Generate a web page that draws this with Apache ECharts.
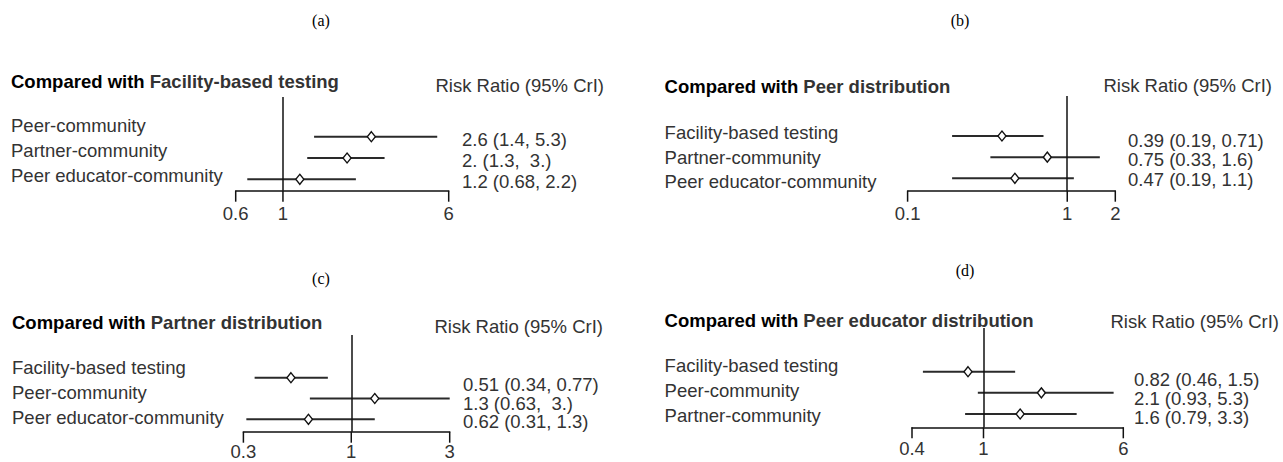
<!DOCTYPE html>
<html lang="en">
<head>
<meta charset="UTF-8">
<title>Risk ratio forest plots</title>
<script src="https://cdn.jsdelivr.net/npm/echarts@6/dist/echarts.min.js"></script>
<style>
    html, body { margin: 0; padding: 0; background: #fff; }
    #chart { width: 1283px; height: 462px; }
</style>
</head>
<body>
<div id="chart"></div>
<script>
    // (a) compared with Facility-based testing
    var rowsA = ['Peer-community', 'Partner-community', 'Peer educator-community'];
    var estA = [2.6, 2.0, 1.2];
    var loA = [1.4, 1.3, 0.68];
    var hiA = [5.3, 3.0, 2.2];
    var textA = ['2.6 (1.4, 5.3)', '2. (1.3,  3.)', '1.2 (0.68, 2.2)'];
    var ticksA = [0.6, 1, 6];

    // (b) compared with Peer distribution
    var rowsB = ['Facility-based testing', 'Partner-community', 'Peer educator-community'];
    var estB = [0.39, 0.75, 0.47];
    var loB = [0.19, 0.33, 0.19];
    var hiB = [0.71, 1.6, 1.1];
    var textB = ['0.39 (0.19, 0.71)', '0.75 (0.33, 1.6)', '0.47 (0.19, 1.1)'];
    var ticksB = [0.1, 1, 2];

    // (c) compared with Partner distribution
    var rowsC = ['Facility-based testing', 'Peer-community', 'Peer educator-community'];
    var estC = [0.51, 1.3, 0.62];
    var loC = [0.34, 0.63, 0.31];
    var hiC = [0.77, 3.0, 1.3];
    var textC = ['0.51 (0.34, 0.77)', '1.3 (0.63,  3.)', '0.62 (0.31, 1.3)'];
    var ticksC = [0.3, 1, 3];

    // (d) compared with Peer educator distribution
    var rowsD = ['Facility-based testing', 'Peer-community', 'Partner-community'];
    var estD = [0.82, 2.1, 1.6];
    var loD = [0.46, 0.93, 0.79];
    var hiD = [1.5, 5.3, 3.3];
    var textD = ['0.82 (0.46, 1.5)', '2.1 (0.93, 5.3)', '1.6 (0.79, 3.3)'];
    var ticksD = [0.4, 1, 6];

    var letters = ['(a)', '(b)', '(c)', '(d)'];
    var refNames = ['Facility-based testing', 'Peer distribution', 'Partner distribution', 'Peer educator distribution'];
    var header = 'Risk Ratio (95% CrI)';

    var FONT = '"Liberation Sans", Arial, sans-serif';
    var FS = 18.5;

    // where each panel sits on the page (pixels)
    var layouts = [
        {x0: 235.7, x1: 448.7, top: 97, bottom: 190.7, rowY0: 136.7, rowGap: 21.3, tickDy: 23,
            titleX: 11, titleY: 81.7, headR: 604, headY: 85, labelX: 11, labelY0: 125, labelGap: 25,
            valX: 462, valY0: 139.3, valGap: 21.2, letterX: 321, letterY: 20},
        {x0: 907.6, x1: 1115.3, top: 96, bottom: 190.7, rowY0: 136, rowGap: 21.15, tickDy: 23,
            titleX: 664.6, titleY: 86.7, headR: 1272, headY: 85, labelX: 664.6, labelY0: 132.7, labelGap: 24.5,
            valX: 1128, valY0: 140, valGap: 19.5, letterX: 960, letterY: 20},
        {x0: 243.4, x1: 449.7, top: 335, bottom: 431.7, rowY0: 377.7, rowGap: 20.8, tickDy: 19.3,
            titleX: 12, titleY: 322, headR: 603, headY: 326, labelX: 12, labelY0: 367, labelGap: 25,
            valX: 463, valY0: 384.3, valGap: 18.7, letterX: 321, letterY: 278},
        {x0: 912, x1: 1123.3, top: 328, bottom: 427.3, rowY0: 371.7, rowGap: 21.15, tickDy: 21.5,
            titleX: 664.6, titleY: 320, headR: 1279, headY: 321, labelX: 664.6, labelY0: 365.7, labelGap: 24.7,
            valX: 1134, valY0: 379.3, valGap: 19, letterX: 965, letterY: 270}
    ];

    var panels = [
        {rows: rowsA, est: estA, lo: loA, hi: hiA, text: textA, ticks: ticksA},
        {rows: rowsB, est: estB, lo: loB, hi: hiB, text: textB, ticks: ticksB},
        {rows: rowsC, est: estC, lo: loC, hi: hiC, text: textC, ticks: ticksC},
        {rows: rowsD, est: estD, lo: loD, hi: hiD, text: textD, ticks: ticksD}
    ];

    function textEl(x, y, text, opt) {
        opt = opt || {};
        var align = opt.align || 'left';
        return {
            type: 'text', silent: true,
            style: {
                x: x, y: y, text: text,
                fontFamily: opt.family || FONT,
                fontSize: opt.size || FS,
                fontWeight: opt.weight || 'normal',
                fill: opt.color || '#333',
                align: align, textAlign: align,
                verticalAlign: 'middle', textVerticalAlign: 'middle'
            }
        };
    }

    function renderCI(params, api) {
        var a = api.coord([api.value(0), api.value(1)]);
        var b = api.coord([api.value(2), api.value(1)]);
        return {
            type: 'line',
            shape: {x1: a[0], y1: a[1], x2: b[0], y2: b[1]},
            style: {stroke: '#2a2a2a', lineWidth: 2}
        };
    }

    function makeTickRender(dy) {
        return function (params, api) {
            var p = api.coord([api.value(0), api.value(1)]);
            return {
                type: 'group',
                children: [
                    {type: 'line', shape: {x1: p[0], y1: p[1], x2: p[0], y2: p[1] + 11},
                        style: {stroke: '#111', lineWidth: 1.5}},
                    {type: 'text', style: {x: p[0], y: p[1] + dy, text: String(api.value(0)),
                            fontFamily: FONT, fontSize: FS, fill: '#333',
                            align: 'center', verticalAlign: 'middle'}}
                ]
            };
        };
    }

    var grid = [], xAxis = [], yAxis = [], series = [], title = [], graphic = [];

    panels.forEach(function (p, i) {
        var L = layouts[i];
        var yMin = (L.top - L.rowY0) / L.rowGap;
        var yMax = (L.bottom - L.rowY0) / L.rowGap;
        var tks = p.ticks;

        grid.push({left: L.x0, top: L.top, width: L.x1 - L.x0, height: L.bottom - L.top,
            containLabel: false, outerBoundsMode: 'none'});
        xAxis.push({
            gridIndex: i, type: 'log', logBase: 10,
            min: tks[0], max: tks[tks.length - 1],
            axisLine: {show: true, onZero: false, lineStyle: {color: '#111', width: 1.5}},
            axisTick: {show: false}, axisLabel: {show: false}, splitLine: {show: false}
        });
        yAxis.push({gridIndex: i, type: 'value', inverse: true, min: yMin, max: yMax, show: false});

        var ci = p.rows.map(function (r, k) { return [p.lo[k], k, p.hi[k]]; });
        var pts = p.rows.map(function (r, k) { return [p.est[k], k]; });

        series.push({
            type: 'custom', xAxisIndex: i, yAxisIndex: i, silent: true,
            encode: {x: [0, 2], y: 1},
            data: ci, renderItem: renderCI, z: 2,
            markLine: {
                silent: true, symbol: ['none', 'none'], label: {show: false},
                lineStyle: {color: '#111', width: 1.5, type: 'solid'},
                data: [{xAxis: 1}]
            }
        });
        series.push({
            type: 'scatter', xAxisIndex: i, yAxisIndex: i, silent: true,
            data: pts, symbol: 'diamond', symbolSize: [8, 10], z: 5,
            itemStyle: {color: '#fff', borderColor: '#111', borderWidth: 1.4, opacity: 1}
        });
        series.push({
            type: 'custom', xAxisIndex: i, yAxisIndex: i, silent: true,
            data: tks.map(function (v) { return [v, yMax]; }),
            renderItem: makeTickRender(L.tickDy), z: 3
        });

        title.push({
            left: L.titleX, top: L.titleY - 11, padding: 0,
            text: '{a|Compared with }{b|' + refNames[i] + '}',
            textStyle: {
                rich: {
                    a: {fontFamily: FONT, fontSize: FS, fontWeight: 'bold', color: '#000', lineHeight: 22},
                    b: {fontFamily: FONT, fontSize: FS, fontWeight: 'bold', color: '#333', lineHeight: 22}
                }
            }
        });

        graphic.push(textEl(L.letterX, L.letterY, letters[i],
            {family: '"Liberation Serif", "Times New Roman", serif', size: 16, color: '#000', align: 'center'}));
        graphic.push(textEl(L.headR, L.headY, header, {align: 'right'}));
        p.rows.forEach(function (r, k) {
            graphic.push(textEl(L.labelX, L.labelY0 + k * L.labelGap, r));
            graphic.push(textEl(L.valX, L.valY0 + k * L.valGap, p.text[k]));
        });
    });

    var chart = echarts.init(document.getElementById('chart'), null, {renderer: 'svg'});
    chart.setOption({
        animation: false,
        backgroundColor: '#fff',
        title: title,
        grid: grid,
        xAxis: xAxis,
        yAxis: yAxis,
        series: series,
        graphic: {elements: graphic}
    });
</script>
</body>
</html>
